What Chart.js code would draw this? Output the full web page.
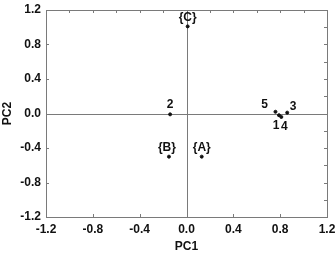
<!DOCTYPE html>
<html>
<head>
<meta charset="utf-8">
<script src="https://cdn.jsdelivr.net/npm/chart.js@4.4.1/dist/chart.umd.min.js"></script>
<style>
  html, body { margin: 0; padding: 0; background: #fff; }
  #wrap { width: 335px; height: 254px; position: relative; }
</style>
</head>
<body>
<div id="wrap"><canvas id="chart"></canvas></div>
<script>
// PCA scores
const pointNames = ['{C}', '2', '{B}', '{A}', '5', '1', '4', '3'];
const pc1 = [0.01, -0.14, -0.15, 0.13, 0.76, 0.79, 0.81, 0.86];
const pc2 = [1.01, -0.01, -0.50, -0.50, 0.02, -0.02, -0.04, 0.01];
const tickValues = [-1.2, -0.8, -0.4, 0.0, 0.4, 0.8, 1.2];

// where each label sits relative to its dot (px)
const labelOffsets = [[0, -9], [0, -10], [-2, -9], [0, -9], [-11, -7], [-3, 10], [3, 10], [6, -6]];

const FONT = '"Liberation Sans", Arial, sans-serif';

const framePlugin = {
  id: 'frame',
  beforeDatasetsDraw(chart) {
    const { ctx, chartArea: a, scales: { x, y } } = chart;
    ctx.save();
    ctx.strokeStyle = '#7a7a7a';
    ctx.lineWidth = 1;
    // zero lines
    const x0 = Math.round(x.getPixelForValue(0)) + 0.5;
    const y0 = Math.round(y.getPixelForValue(0)) + 0.5;
    ctx.beginPath();
    ctx.moveTo(x0, a.top); ctx.lineTo(x0, a.bottom);
    ctx.moveTo(a.left, y0); ctx.lineTo(a.right, y0);
    ctx.stroke();
    // box
    ctx.strokeRect(Math.round(a.left) + 0.5, Math.round(a.top) + 0.5,
      Math.round(a.right - a.left), Math.round(a.bottom - a.top));
    // inward ticks: every 0.4 on bottom/left, every 0.2 on top/right
    ctx.beginPath();
    for (let v = -12; v <= 12; v += 2) {
      const val = v / 10;
      const px = Math.round(x.getPixelForValue(val)) + 0.5;
      const py = Math.round(y.getPixelForValue(val)) + 0.5;
      ctx.moveTo(px, a.top); ctx.lineTo(px, a.top + 3);
      ctx.moveTo(a.right, py); ctx.lineTo(a.right - 3, py);
      if (v % 4 === 0) {
        ctx.moveTo(px, a.bottom); ctx.lineTo(px, a.bottom - 3);
        ctx.moveTo(a.left, py); ctx.lineTo(a.left + 3, py);
      }
    }
    ctx.stroke();
    ctx.restore();
  },
  afterDatasetsDraw(chart) {
    const { ctx } = chart;
    const meta = chart.getDatasetMeta(0);
    ctx.save();
    ctx.fillStyle = '#111';
    ctx.font = 'bold 12px ' + FONT;
    ctx.textAlign = 'center';
    ctx.textBaseline = 'middle';
    meta.data.forEach((pt, i) => {
      const [dx, dy] = labelOffsets[i];
      ctx.fillText(pointNames[i], pt.x + dx, pt.y + dy);
    });
    ctx.restore();
  }
};

const data = pc1.map((v, i) => ({ x: v, y: pc2[i] }));

new Chart(document.getElementById('chart'), {
  type: 'scatter',
  data: {
    datasets: [{
      data: data,
      backgroundColor: '#111',
      borderColor: '#111',
      pointRadius: 1.5,
      pointHoverRadius: 1.5
    }]
  },
  options: {
    responsive: true,
    maintainAspectRatio: false,
    animation: false,
    events: [],
    layout: { padding: { top: 10, right: 8, left: 0, bottom: 0 } },
    plugins: { legend: { display: false }, tooltip: { enabled: false } },
    scales: {
      x: {
        type: 'linear',
        min: -1.2, max: 1.2,
        afterBuildTicks: (s) => { s.ticks = tickValues.map(v => ({ value: v })); },
        afterFit: (s) => { s.height = 37; s.paddingLeft = 0; s.paddingRight = 0; },
        grid: { display: false, drawTicks: false },
        border: { display: false },
        ticks: {
          color: '#111', padding: 5,
          font: { family: FONT, size: 12, weight: 'bold' },
          callback: (v) => Number(v).toFixed(1)
        },
        title: {
          display: true, text: 'PC1', color: '#111', padding: { top: 2, bottom: 0 },
          font: { family: FONT, size: 12, weight: 'bold' }
        }
      },
      y: {
        type: 'linear',
        min: -1.2, max: 1.2,
        afterBuildTicks: (s) => { s.ticks = tickValues.map(v => ({ value: v })); },
        afterFit: (s) => { s.width = 46; s.paddingTop = 0; s.paddingBottom = 0; },
        grid: { display: false, drawTicks: false },
        border: { display: false },
        ticks: {
          color: '#111', padding: 5,
          font: { family: FONT, size: 12, weight: 'bold' },
          callback: (v) => Number(v).toFixed(1)
        },
        title: {
          display: true, text: 'PC2', color: '#111', padding: { top: 0, bottom: 0 },
          font: { family: FONT, size: 12, weight: 'bold' }
        }
      }
    }
  },
  plugins: [framePlugin]
});
</script>
</body>
</html>
